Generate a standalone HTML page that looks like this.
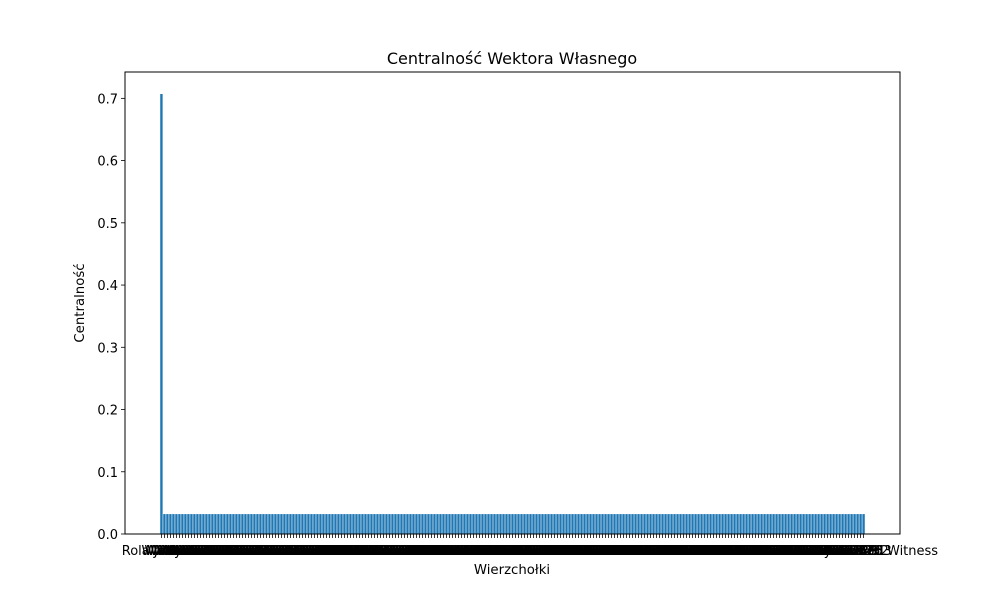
<!DOCTYPE html>
<html><head><meta charset="utf-8"><style>
body{margin:0;background:#fff}
svg text{font-family:"DejaVu Sans","Liberation Sans",sans-serif;fill:#000}
</style></head><body>
<svg id="chart" width="1000" height="600">
<rect x="0" y="0" width="1000" height="600" fill="#fff"/>
<text x="512" y="64" font-size="16" text-anchor="middle">Centralność Wektora Własnego</text>
<text x="512" y="574" font-size="13.3" text-anchor="middle">Wierzchołki</text>
<text transform="translate(84,303) rotate(-90)" font-size="13.3" text-anchor="middle">Centralność</text>
<g id="bars"></g><g id="xt"></g><g id="yt"></g>
<rect x="125" y="72" width="775" height="462" fill="none" stroke="#000" stroke-width="1"/>
</svg>
<script>
const values = [0.707,
0.032,0.032,0.032,0.032,0.032,0.032,0.032,0.032,0.032,0.032,0.032,0.032,0.032,0.032,0.032,0.032,0.032,0.032,0.032,0.032,0.032,0.032,0.032,0.032,0.032,0.032,0.032,0.032,0.032,0.032,0.032,0.032,0.032,0.032,0.032,0.032,0.032,0.032,0.032,0.032,0.032,0.032,0.032,0.032,0.032,0.032,0.032,0.032,0.032,0.032,0.032,0.032,0.032,0.032,0.032,0.032,0.032,0.032,0.032,0.032,0.032,0.032,0.032,0.032,0.032,0.032,0.032,0.032,0.032,0.032,0.032,0.032,0.032,0.032,0.032,0.032,0.032,0.032,0.032,0.032,0.032,0.032,0.032,0.032,0.032,0.032,0.032,0.032,0.032,0.032,0.032,0.032,0.032,0.032,0.032,0.032,0.032,0.032,0.032,0.032,0.032,0.032,0.032,0.032,0.032,0.032,0.032,0.032,0.032,0.032,0.032,0.032,0.032,0.032,0.032,0.032,
0.032,0.032,0.032,0.032,0.032,0.032,0.032,0.032,0.032,0.032,0.032,0.032,0.032,0.032,0.032,0.032,0.032,0.032,0.032,0.032,0.032,0.032,0.032,0.032,0.032,0.032,0.032,0.032,0.032,0.032,0.032,0.032,0.032,0.032,0.032,0.032,0.032,0.032,0.032,0.032,0.032,0.032,0.032,0.032,0.032,0.032,0.032,0.032,0.032,0.032,0.032,0.032,0.032,0.032,0.032,0.032,0.032,0.032,0.032,0.032,0.032,0.032,0.032,0.032,0.032,0.032,0.032,0.032,0.032,0.032,0.032,0.032,0.032,0.032,0.032,0.032,0.032,0.032,0.032,0.032,0.032,0.032,0.032,0.032,0.032,0.032,0.032,0.032,0.032,0.032,0.032,0.032,0.032,0.032,0.032,0.032,0.032,0.032,0.032,0.032,0.032,0.032,0.032,0.032,0.032,0.032,0.032,0.032,0.032,0.032,0.032,0.032,0.032,0.032,0.032,0.032,0.032,0.032];
const categories = values.map((v,i)=> i===0 ? "Rola Jedynki" : (i===values.length-1 ? "Hardly A Good Witness" : "Word " + i));
const yTicks = [0,0.1,0.2,0.3,0.4,0.5,0.6,0.7];
const yLabels = ["0.0","0.1","0.2","0.3","0.4","0.5","0.6","0.7"];
const NS="http://www.w3.org/2000/svg";
const L=125,R=900,T=72,B=534;
const n=categories.length;
const x0=-0.4-(n-0.2)*0.05, x1=n-1+0.4+(n-0.2)*0.05;
const xs=v=>L+(v-x0)/(x1-x0)*(R-L);
const ymax=0.707*1.05;
const ys=v=>B-v/ymax*(B-T);
const bars=document.getElementById('bars'),xt=document.getElementById('xt'),yt=document.getElementById('yt');
values.forEach((v,i)=>{
  const r=document.createElementNS(NS,'rect');
  r.setAttribute('x',xs(i-0.4));r.setAttribute('width',xs(i+0.4)-xs(i-0.4));
  r.setAttribute('y',ys(v));r.setAttribute('height',ys(0)-ys(v));
  r.setAttribute('fill','#1f77b4');
  
  
  bars.appendChild(r);
  const t=document.createElementNS(NS,'line');
  t.setAttribute('x1',xs(i));t.setAttribute('x2',xs(i));t.setAttribute('y1',B);t.setAttribute('y2',B+4);
  t.setAttribute('stroke','#000');t.setAttribute('stroke-width','0.8');
  
  
  xt.appendChild(t);
  const tx=document.createElementNS(NS,'text');
  tx.setAttribute('x',xs(i));tx.setAttribute('y',B+21);tx.setAttribute('font-size','13');tx.setAttribute('text-anchor','middle');
  tx.textContent=categories[i];
  
  
  xt.appendChild(tx);
});
yTicks.forEach((v,i)=>{
  const t=document.createElementNS(NS,'line');
  t.setAttribute('x1',L-4);t.setAttribute('x2',L);t.setAttribute('y1',ys(v));t.setAttribute('y2',ys(v));
  t.setAttribute('stroke','#000');t.setAttribute('stroke-width','0.8');
  
  
  yt.appendChild(t);
  const tx=document.createElementNS(NS,'text');
  tx.setAttribute('x',L-7);tx.setAttribute('y',ys(v)+5);tx.setAttribute('font-size','13');tx.setAttribute('text-anchor','end');
  tx.textContent=yLabels[i];
  
  
  yt.appendChild(tx);
});
</script>
</body></html>
